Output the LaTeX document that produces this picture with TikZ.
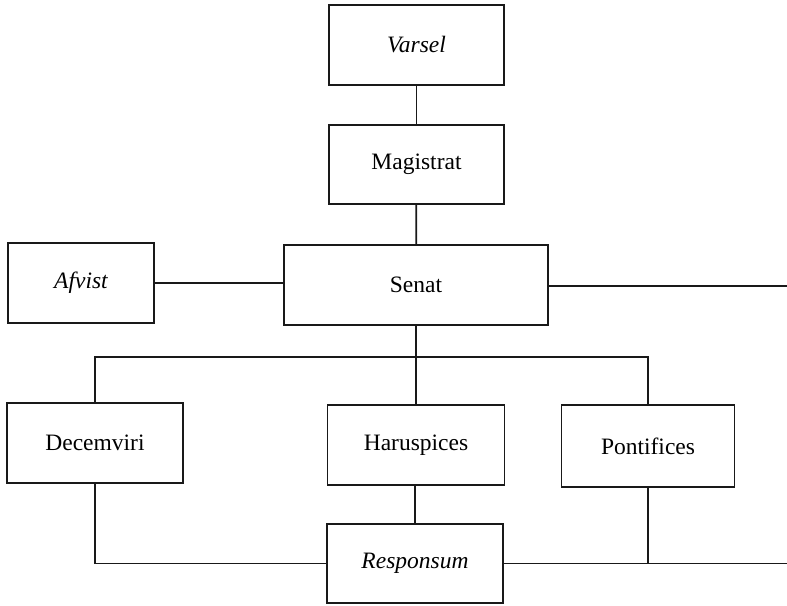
\documentclass[tikz,border=0pt]{standalone}
\usepackage{fontspec}
\setmainfont{Liberation Serif}
\begin{document}
\begin{tikzpicture}[x=1pt,y=-1pt,
  box/.style={draw=black!90,line width=1.8pt,rectangle,inner sep=0pt,
    font=\fontsize{23.5}{28}\selectfont},
  conn/.style={draw=black!90,line width=1.8pt}]
\useasboundingbox (0,0) rectangle (787,605);
\node[box,minimum width=175pt,minimum height=80pt] (varsel) at (416.5,45) {\itshape Varsel};
\node[box,minimum width=175pt,minimum height=79pt] (mag) at (416.5,164.5) {Magistrat};
\node[box,minimum width=264pt,minimum height=80pt] (senat) at (416,285) {Senat};
\node[box,minimum width=146pt,minimum height=80pt] (afvist) at (81,283) {\itshape Afvist};
\node[box,minimum width=176pt,minimum height=80pt] (dec) at (95,443) {Decemviri};
\node[box,minimum width=177pt,minimum height=80pt] (haru) at (416,445) {Haruspices};
\node[box,minimum width=173pt,minimum height=82pt] (pont) at (648,446) {Pontifices};
\node[box,minimum width=176pt,minimum height=79pt] (resp) at (415,563.5) {\itshape Responsum};
\coordinate (bus) at (416,357);
\coordinate (senend) at (787,286);
\coordinate (respend) at (787,563.5);
\draw[conn] (varsel) -- (mag);
\draw[conn] (mag) -- (senat);
\draw[conn] (afvist) -- (afvist -| senat.west);
\draw[conn] (senat.east |- senend) -- (senend);
\draw[conn] (senat.south) -- (bus);
\draw[conn] (dec.north) |- (bus) -| (pont.north);
\draw[conn] (bus) -- (bus |- haru.north);
\draw[conn] (haru.south -| resp.north) -- (resp.north);
\draw[conn] (dec.south) |- (resp.west);
\draw[conn] (resp.east) -- (respend);
\draw[conn] (pont.south) -- (pont.south |- resp.east);
\end{tikzpicture}
\end{document}
